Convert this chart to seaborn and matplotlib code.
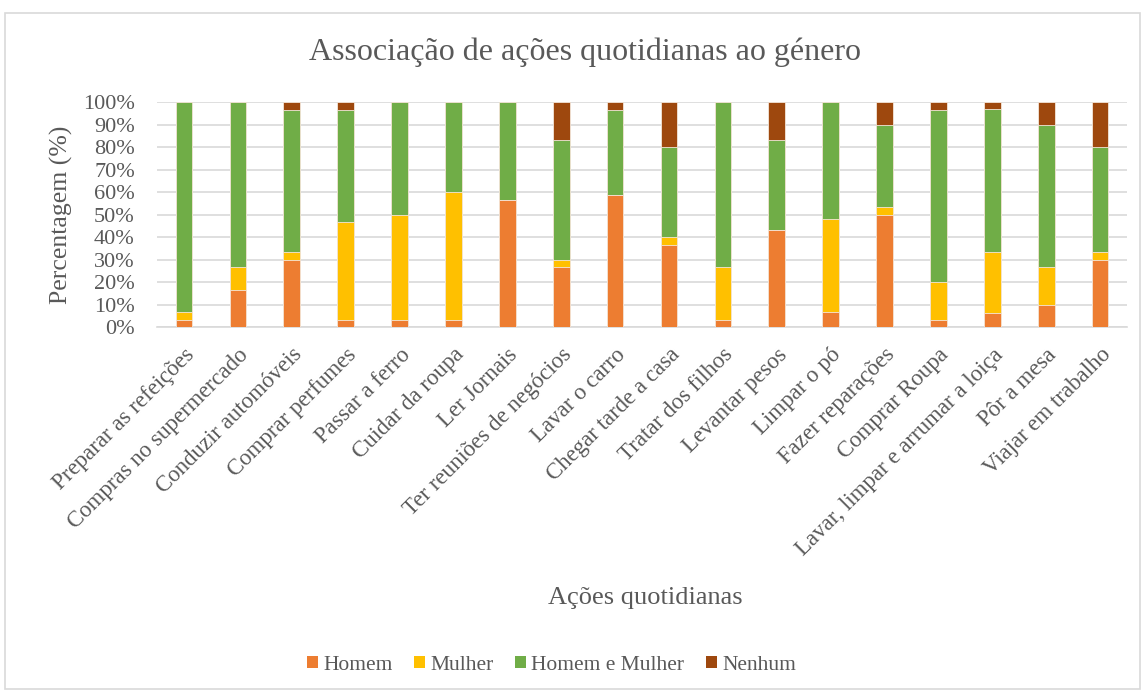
import pandas as pd
import matplotlib.pyplot as plt
import seaborn as sns
from matplotlib.patches import Patch, Rectangle

# Dados (percentagens)
acoes = ['Preparar as refeições', 'Compras no supermercado', 'Conduzir automóveis',
         'Comprar perfumes', 'Passar a ferro', 'Cuidar da roupa', 'Ler Jornais',
         'Ter reuniões de negócios', 'Lavar o carro', 'Chegar tarde a casa',
         'Tratar dos filhos', 'Levantar pesos', 'Limpar o pó', 'Fazer reparações',
         'Comprar Roupa', 'Lavar, limpar e arrumar a loiça', 'Pôr a mesa',
         'Viajar em trabalho']
homem = [3.33, 16.67, 30.0, 3.33, 3.33, 3.33, 56.67, 26.67, 58.62, 36.67,
         3.33, 43.33, 6.9, 50.0, 3.33, 6.5, 10.0, 30.0]
mulher = [3.33, 10.0, 3.33, 43.33, 46.67, 56.67, 0.0, 3.33, 0.0, 3.33,
          23.33, 0.0, 41.38, 3.33, 16.67, 26.8, 16.67, 3.33]
homem_mulher = [93.33, 73.33, 63.33, 50.0, 50.0, 40.0, 43.33, 53.33, 37.93, 40.0,
                73.33, 40.0, 51.72, 36.67, 76.67, 63.4, 63.33, 46.67]
nenhum = [0.0, 0.0, 3.33, 3.33, 0.0, 0.0, 0.0, 16.67, 3.45, 20.0,
          0.0, 16.67, 0.0, 10.0, 3.33, 3.3, 10.0, 20.0]

series = ['Homem', 'Mulher', 'Homem e Mulher', 'Nenhum']
cores = ['#ED7D31', '#FFC000', '#70AD47', '#9E480E']

df = pd.DataFrame({'acao': acoes, 'Homem': homem, 'Mulher': mulher,
                   'Homem e Mulher': homem_mulher, 'Nenhum': nenhum})
# somas acumuladas para empilhar as barras
df['c1'] = df['Homem']
df['c2'] = df['c1'] + df['Mulher']
df['c3'] = df['c2'] + df['Homem e Mulher']
df['c4'] = df['c3'] + df['Nenhum']

sns.set_style('white')
plt.rcParams['font.family'] = ['Liberation Serif', 'DejaVu Serif']
cinza = '#595959'

fig = plt.figure(figsize=(11.47, 6.95), dpi=100)
ax = fig.add_axes([0.1369, 0.5288, 0.8457, 0.3244])

for col, cor in zip(['c4', 'c3', 'c2', 'c1'], cores[::-1]):
    sns.barplot(data=df, x='acao', y=col, order=acoes, color=cor, width=0.31,
                edgecolor='#F4E6DA', linewidth=0.6, saturation=1, ax=ax, zorder=3)

ax.set_ylim(0, 100)
ax.set_yticks(range(0, 101, 10))
ax.set_yticklabels([f'{v}%' for v in range(0, 101, 10)], fontsize=16, color=cinza)
ax.yaxis.grid(True, color='#D9D9D9', linewidth=1.2, zorder=0)
ax.set_axisbelow(True)
for s in ['top', 'right', 'left']:
    ax.spines[s].set_visible(False)
ax.spines['bottom'].set_color('#D9D9D9')
ax.spines['bottom'].set_linewidth(1.2)
ax.tick_params(axis='y', length=0, pad=16)
ax.tick_params(axis='x', length=0, pad=12)
ax.set_xticks(range(len(acoes)))
ax.set_xticklabels(acoes, rotation=45, ha='right', rotation_mode='anchor',
                   fontsize=16.5, color=cinza)
ax.set_xlim(-0.5, len(acoes) - 0.5)

ax.set_ylabel('Percentagem (%)', fontsize=18.5, color=cinza)
ax.yaxis.set_label_coords(-0.0866, 0.5)
ax.set_xlabel('')
fig.text(0.5623, 0.139, 'Ações quotidianas', ha='center', va='center',
         fontsize=19, color=cinza)
fig.text(0.51, 0.925, 'Associação de ações quotidianas ao género', ha='center',
         va='center', fontsize=23, color=cinza)

handles = [Patch(facecolor=c, edgecolor='none') for c in cores]
fig.legend(handles, series, loc='center', bbox_to_anchor=(0.481, 0.043), ncol=4,
           frameon=False, fontsize=15.5, handlelength=0.5, handleheight=0.5,
           handletextpad=0.25, columnspacing=1.0, labelcolor=cinza)

# moldura da área do gráfico
fig.patches.append(Rectangle((0.004, 0.008), 0.99, 0.974, transform=fig.transFigure,
                             fill=False, edgecolor='#D9D9D9', linewidth=1.2))

fig.savefig('out.png', dpi=100)
